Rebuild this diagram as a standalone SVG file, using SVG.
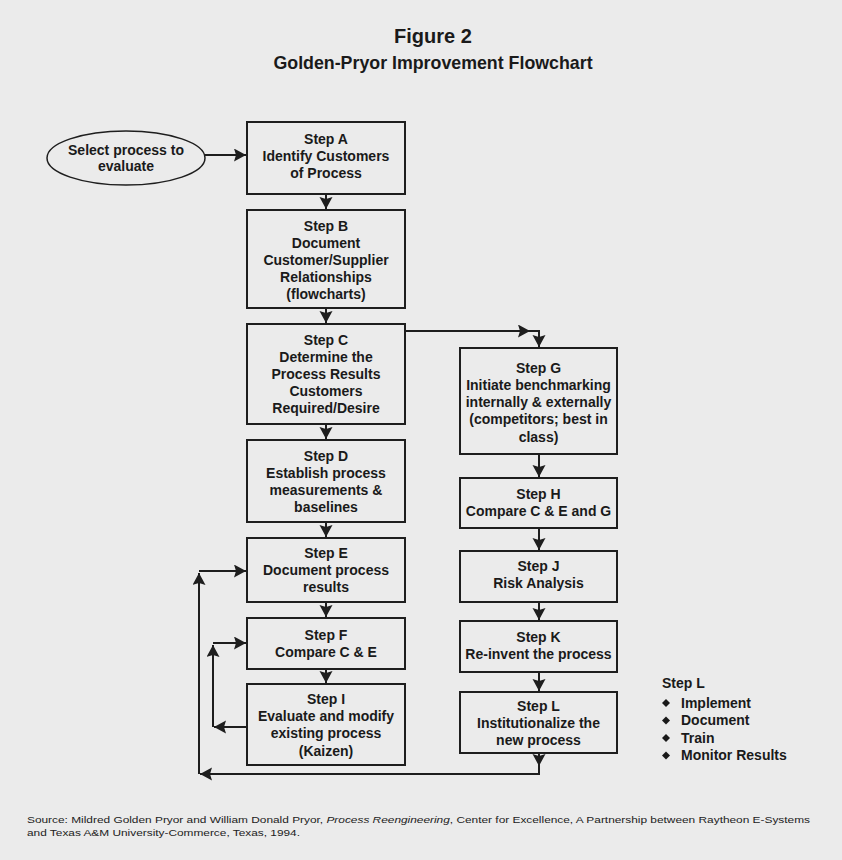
<svg xmlns="http://www.w3.org/2000/svg" width="842" height="860" viewBox="0 0 842 860">
<style>
.bg{fill:#ebebeb}
.box{fill:none;stroke:#1e1e1e;stroke-width:2}
.t{font-family:"Liberation Sans",Arial,sans-serif;font-weight:bold;font-size:14px;fill:#1a1a1a;text-anchor:middle}
.l{font-family:"Liberation Sans",Arial,sans-serif;font-weight:bold;font-size:14px;fill:#1a1a1a}
.c{fill:none;stroke:#1e1e1e;stroke-width:2}
.src{font-family:"Liberation Sans",Arial,sans-serif;font-size:9.5px;fill:#222}
</style>
<defs>
<marker id="ah" markerUnits="userSpaceOnUse" markerWidth="14" markerHeight="14" refX="12" refY="6.5" orient="auto">
<path d="M0,0 L12,6.5 L0,13 L2,6.5 Z" fill="#1e1e1e"/>
</marker>
</defs>
<rect class="bg" x="0" y="0" width="842" height="860"/>
<g id="title">
<text x="433" y="43" style="font-family:'Liberation Sans',Arial,sans-serif;font-weight:bold;font-size:20px;fill:#1a1a1a;text-anchor:middle">Figure 2</text>
<text x="433" y="69" style="font-family:'Liberation Sans',Arial,sans-serif;font-weight:bold;font-size:17.8px;fill:#1a1a1a;text-anchor:middle">Golden-Pryor Improvement Flowchart</text>
</g>
<g id="start">
<ellipse cx="126" cy="158" rx="79" ry="27" fill="none" stroke="#1e1e1e" stroke-width="1.5"/>
<text class="t" x="126" y="155">Select process to</text>
<text class="t" x="126" y="171">evaluate</text>
</g>
<g id="stepA">
<rect class="box" x="247" y="122" width="158" height="72"/>
<text class="t" x="326" y="144">Step A</text>
<text class="t" x="326" y="161">Identify Customers</text>
<text class="t" x="326" y="178">of Process</text>
</g>
<g id="stepB">
<rect class="box" x="247" y="210" width="158" height="98"/>
<text class="t" x="326" y="231">Step B</text>
<text class="t" x="326" y="248">Document</text>
<text class="t" x="326" y="265">Customer/Supplier</text>
<text class="t" x="326" y="282">Relationships</text>
<text class="t" x="326" y="299">(flowcharts)</text>
</g>
<g id="stepC">
<rect class="box" x="247" y="324" width="158" height="100"/>
<text class="t" x="326" y="345">Step C</text>
<text class="t" x="326" y="362">Determine the</text>
<text class="t" x="326" y="379">Process Results</text>
<text class="t" x="326" y="396">Customers</text>
<text class="t" x="326" y="413">Required/Desire</text>
</g>
<g id="stepD">
<rect class="box" x="247" y="440" width="158" height="82"/>
<text class="t" x="326" y="461">Step D</text>
<text class="t" x="326" y="478">Establish process</text>
<text class="t" x="326" y="495">measurements &amp;</text>
<text class="t" x="326" y="512">baselines</text>
</g>
<g id="stepE">
<rect class="box" x="247" y="538" width="158" height="64"/>
<text class="t" x="326" y="558">Step E</text>
<text class="t" x="326" y="575">Document process</text>
<text class="t" x="326" y="592">results</text>
</g>
<g id="stepF">
<rect class="box" x="247" y="618" width="158" height="51"/>
<text class="t" x="326" y="640">Step F</text>
<text class="t" x="326" y="657">Compare C &amp; E</text>
</g>
<g id="stepI">
<rect class="box" x="247" y="684" width="158" height="81"/>
<text class="t" x="326" y="704">Step I</text>
<text class="t" x="326" y="721">Evaluate and modify</text>
<text class="t" x="326" y="738">existing process</text>
<text class="t" x="326" y="756">(Kaizen)</text>
</g>
<g id="stepG">
<rect class="box" x="460" y="348" width="157" height="106"/>
<text class="t" x="538.5" y="373">Step G</text>
<text class="t" x="538.5" y="390">Initiate benchmarking</text>
<text class="t" x="538.5" y="407">internally &amp; externally</text>
<text class="t" x="538.5" y="424">(competitors; best in</text>
<text class="t" x="538.5" y="442">class)</text>
</g>
<g id="stepH">
<rect class="box" x="460" y="478" width="157" height="50"/>
<text class="t" x="538.5" y="499">Step H</text>
<text class="t" x="538.5" y="516">Compare C &amp; E and G</text>
</g>
<g id="stepJ">
<rect class="box" x="460" y="551" width="157" height="51"/>
<text class="t" x="538.5" y="571">Step J</text>
<text class="t" x="538.5" y="588">Risk Analysis</text>
</g>
<g id="stepK">
<rect class="box" x="460" y="621" width="157" height="51"/>
<text class="t" x="538.5" y="642">Step K</text>
<text class="t" x="538.5" y="659">Re-invent the process</text>
</g>
<g id="stepL">
<rect class="box" x="460" y="692" width="157" height="61"/>
<text class="t" x="538.5" y="711">Step L</text>
<text class="t" x="538.5" y="728">Institutionalize the</text>
<text class="t" x="538.5" y="745">new process</text>
</g>
<g id="legend">
<text class="l" x="662" y="688">Step L</text>
<path d="M666,699 L670,703 L666,707 L662,703 Z M666,716.5 L670,720.5 L666,724.5 L662,720.5 Z M666,734 L670,738 L666,742 L662,738 Z M666,751.5 L670,755.5 L666,759.5 L662,755.5 Z" fill="#1a1a1a"/>
<text class="l" x="681" y="707.5">Implement</text>
<text class="l" x="681" y="725">Document</text>
<text class="l" x="681" y="742.5">Train</text>
<text class="l" x="681" y="760">Monitor Results</text>
</g>
<g id="connectors">
<path class="c" d="M205,155 H246" marker-end="url(#ah)"/>
<path class="c" d="M326,194 V209" marker-end="url(#ah)"/>
<path class="c" d="M326,308 V323" marker-end="url(#ah)"/>
<path class="c" d="M326,424 V439" marker-end="url(#ah)"/>
<path class="c" d="M326,522 V537" marker-end="url(#ah)"/>
<path class="c" d="M326,602 V617" marker-end="url(#ah)"/>
<path class="c" d="M326,669 V683" marker-end="url(#ah)"/>
<path class="c" d="M405,331 H530" marker-end="url(#ah)"/>
<path class="c" d="M528,331 H539 V347" marker-end="url(#ah)"/>
<path class="c" d="M539,454 V477" marker-end="url(#ah)"/>
<path class="c" d="M539,528 V550" marker-end="url(#ah)"/>
<path class="c" d="M539,602 V620" marker-end="url(#ah)"/>
<path class="c" d="M539,672 V691" marker-end="url(#ah)"/>
<path class="c" d="M539,753 V766" marker-end="url(#ah)"/>
<path class="c" d="M539,764 V774 H200" marker-end="url(#ah)"/>
<path class="c" d="M199,774 V573" marker-end="url(#ah)"/>
<path class="c" d="M199,571 H246" marker-end="url(#ah)"/>
<path class="c" d="M247,727 H214" marker-end="url(#ah)"/>
<path class="c" d="M213,727 V645" marker-end="url(#ah)"/>
<path class="c" d="M213,643 H246" marker-end="url(#ah)"/>
</g>
<g id="source">
<text class="src" x="27" y="823" textLength="783" lengthAdjust="spacingAndGlyphs">Source:  Mildred Golden Pryor and William Donald Pryor, <tspan font-style="italic">Process Reengineering</tspan>, Center for Excellence, A Partnership between Raytheon E-Systems</text>
<text class="src" x="27" y="836" textLength="273" lengthAdjust="spacingAndGlyphs">and Texas A&amp;M University-Commerce, Texas, 1994.</text>
</g>
</svg>
